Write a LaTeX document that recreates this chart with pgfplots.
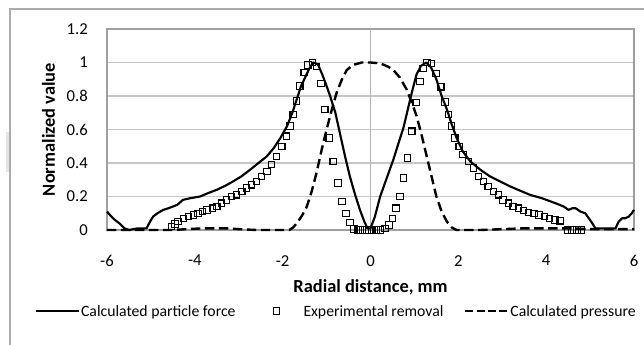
\documentclass[border=0pt]{standalone}
\usepackage{fontspec}
\setmainfont{Carlito}
\usepackage{pgfplots}
\pgfplotsset{compat=1.18}
\pgfplotsset{
  legforce/.style={legend image code/.code={\draw[##1] (0pt,0pt) -- (32.25pt,0pt); \path[draw=none,fill=none] (33.75pt,0pt) circle (0.01pt);}},
  legsquare/.style={legend image code/.code={\path[draw=none,fill=none] (0pt,0pt) rectangle (51pt,0.01pt); \draw[##1, only marks] plot coordinates {(30.75pt,0pt)};}},
  legpress/.style={legend image code/.code={\path[draw=none,fill=none] (0pt,0pt) rectangle (50.25pt,0.01pt); \draw[##1, dash pattern=on 6pt off 2.5pt] (16.5pt,0pt) -- (48.75pt,0pt);}},
}
\begin{document}
\begin{tikzpicture}
\fill[white] (0pt,0pt) rectangle (483pt,258.75pt);
\path[use as bounding box] (0pt,0pt) rectangle (483pt,258.75pt);
\fill[gray!20] (4.5pt,130pt) rectangle (7.5pt,160pt);
\draw[gray!65, line width=1.1pt] (7.5pt,0pt) -- (7.5pt,252pt) -- (483pt,252pt);
\begin{axis}[
  at={(80.25pt,86.25pt)}, anchor=south west,
  scale only axis, width=395.25pt, height=150.75pt,
  xmin=-6, xmax=6, ymin=0, ymax=1.2,
  xtick={-6,-4,-2,0,2,4,6},
  ytick={0,0.2,0.4,0.6,0.8,1,1.2},
  extra x ticks={0}, extra x tick labels={},
  extra x tick style={xmajorgrids=true, major grid style={gray!60, line width=0.7pt}},
  ymajorgrids,
  major grid style={gray!45, line width=0.8pt},
  major tick length=0pt,
  axis line style={draw=gray!75, line width=0.8pt},
  /pgf/number format/assume math mode=true,
  ticklabel style={font=\fontsize{12.5}{15}\selectfont, inner sep=0pt},
  yticklabel style={xshift=-14.25pt},
  xticklabel style={yshift=-18.75pt, anchor=north},
  xlabel={Radial distance, mm},
  ylabel={Normalized value},
  label style={font=\fontsize{13.8}{16}\selectfont\bfseries},
  xlabel style={at={(axis description cs:0.5,-0.3134)}, anchor=base},
  ylabel style={at={(axis description cs:-0.0987,0.5)}, anchor=base},
  legend columns=3,
  legend style={draw=none, fill=none, at={(axis description cs:-0.1366,-0.403)}, anchor=west,
    inner sep=0pt, outer sep=0pt, column sep=0pt,
    nodes={inner sep=0pt, outer sep=0pt, text depth=0pt, font=\fontsize{11.8}{14}\selectfont}},
  clip=false,
]
\addplot[black, line width=1.6pt, line join=round, legforce]
coordinates {
(-6,0.11) (-5.9,0.08) (-5.82,0.06) (-5.72,0.04) (-5.6,0.01) (-5.5,0.0) (-5.3,0.01) (-5.1,0.01)
(-5.02,0.05) (-4.95,0.08) (-4.85,0.1) (-4.72,0.12) (-4.6,0.13) (-4.5,0.14) (-4.4,0.15) (-4.27,0.18)
(-4.1,0.19) (-3.88,0.2) (-3.7,0.22) (-3.5,0.24) (-3.3,0.265) (-3.13,0.29) (-2.94,0.32) (-2.74,0.36)
(-2.55,0.4) (-2.36,0.44) (-2.2,0.49) (-2.05,0.55) (-1.9,0.62) (-1.78,0.7) (-1.68,0.78) (-1.58,0.86)
(-1.49,0.91) (-1.4,0.96) (-1.31,1.0) (-1.2,0.99) (-1.1,0.93) (-1.0,0.86) (-0.92,0.8) (-0.8,0.7)
(-0.69,0.57) (-0.58,0.44) (-0.47,0.32) (-0.35,0.21) (-0.24,0.12) (-0.14,0.05) (-0.07,0.01) (0.0,0.01)
(0.1,0.08) (0.22,0.2) (0.37,0.31) (0.52,0.42) (0.64,0.52) (0.75,0.61) (0.85,0.72) (0.95,0.83)
(1.05,0.93) (1.15,0.98) (1.27,1.0) (1.38,0.97) (1.5,0.9) (1.62,0.8) (1.74,0.72) (1.85,0.63)
(1.96,0.55) (2.1,0.47) (2.27,0.41) (2.5,0.36) (2.72,0.32) (2.95,0.29) (3.18,0.26) (3.45,0.23)
(3.63,0.21) (3.9,0.19) (4.21,0.16) (4.4,0.14) (4.51,0.12) (4.6,0.13) (4.67,0.13) (4.78,0.11)
(4.89,0.1) (4.97,0.07) (5.05,0.04) (5.12,0.01) (5.3,0.01) (5.58,0.01) (5.65,0.05) (5.73,0.07)
(5.8,0.07) (5.88,0.08) (5.95,0.1) (6.0,0.12)
};
\addlegendentry{Calculated particle force}
\addplot[only marks, mark=square, mark size=2.4pt, mark options={black, line width=0.8pt}, legsquare]
coordinates {
(-4.53,0.02) (-4.45,0.035) (-4.38,0.05) (-4.26,0.07) (-4.15,0.08) (-4.03,0.09) (-3.93,0.1) (-3.82,0.11)
(-3.72,0.12) (-3.6,0.13) (-3.5,0.14) (-3.39,0.16) (-3.28,0.18) (-3.16,0.2) (-3.05,0.21) (-2.93,0.23)
(-2.82,0.25) (-2.71,0.27) (-2.59,0.29) (-2.48,0.32) (-2.36,0.35) (-2.25,0.39) (-2.14,0.44) (-2.02,0.5)
(-1.91,0.56) (-1.83,0.62) (-1.76,0.69) (-1.68,0.77) (-1.61,0.86) (-1.51,0.94) (-1.42,0.985) (-1.32,1.0)
(-1.23,0.975) (-1.13,0.875) (-1.04,0.72) (-0.94,0.55) (-0.85,0.41) (-0.74,0.28) (-0.65,0.17) (-0.56,0.1)
(-0.47,0.044) (-0.38,0.005) (-0.28,0) (-0.18,0) (-0.08,0) (0.03,0) (0.13,0) (0.23,0)
(0.33,0.01) (0.42,0.03) (0.5,0.07) (0.58,0.13) (0.67,0.2) (0.75,0.31) (0.84,0.43) (0.94,0.59)
(1.04,0.76) (1.13,0.885) (1.2,0.965) (1.29,1.0) (1.39,0.995) (1.49,0.935) (1.6,0.855) (1.7,0.765)
(1.77,0.69) (1.85,0.62) (1.92,0.55) (2.02,0.5) (2.11,0.45) (2.23,0.41) (2.34,0.37) (2.46,0.32)
(2.57,0.29) (2.68,0.26) (2.8,0.23) (2.91,0.21) (3.02,0.18) (3.14,0.16) (3.25,0.14) (3.37,0.13)
(3.48,0.115) (3.6,0.105) (3.72,0.1) (3.84,0.09) (3.96,0.08) (4.08,0.07) (4.2,0.06) (4.32,0.055)
(4.48,0) (4.59,0) (4.7,0) (4.8,0)
};
\addlegendentry{Experimental removal}
\addplot[black, line width=1.8pt, dash pattern=on 7pt off 3.5pt, legpress]
coordinates {
(-6,0) (-4.5,0) (-4.2,0.005) (-3.8,0.01) (-3.3,0.01) (-3.0,0.005) (-2.6,0) (-1.85,0)
(-1.76,0.015) (-1.65,0.05) (-1.55,0.09) (-1.45,0.14) (-1.34,0.23) (-1.23,0.34) (-1.12,0.47) (-1.0,0.6)
(-0.88,0.72) (-0.77,0.82) (-0.65,0.9) (-0.54,0.955) (-0.4,0.985) (-0.2,1.0) (0,1.0) (0.22,0.995)
(0.4,0.975) (0.52,0.955) (0.67,0.91) (0.82,0.84) (0.94,0.76) (1.05,0.68) (1.17,0.56) (1.28,0.44)
(1.39,0.32) (1.5,0.2) (1.62,0.11) (1.74,0.05) (1.85,0.015) (1.96,0) (2.5,0) (3.0,0.005)
(3.5,0.01) (4.0,0.01) (4.5,0.01) (5.0,0.005) (6,0.005)
};
\addlegendentry{Calculated pressure}
\end{axis}
\end{tikzpicture}
\end{document}
